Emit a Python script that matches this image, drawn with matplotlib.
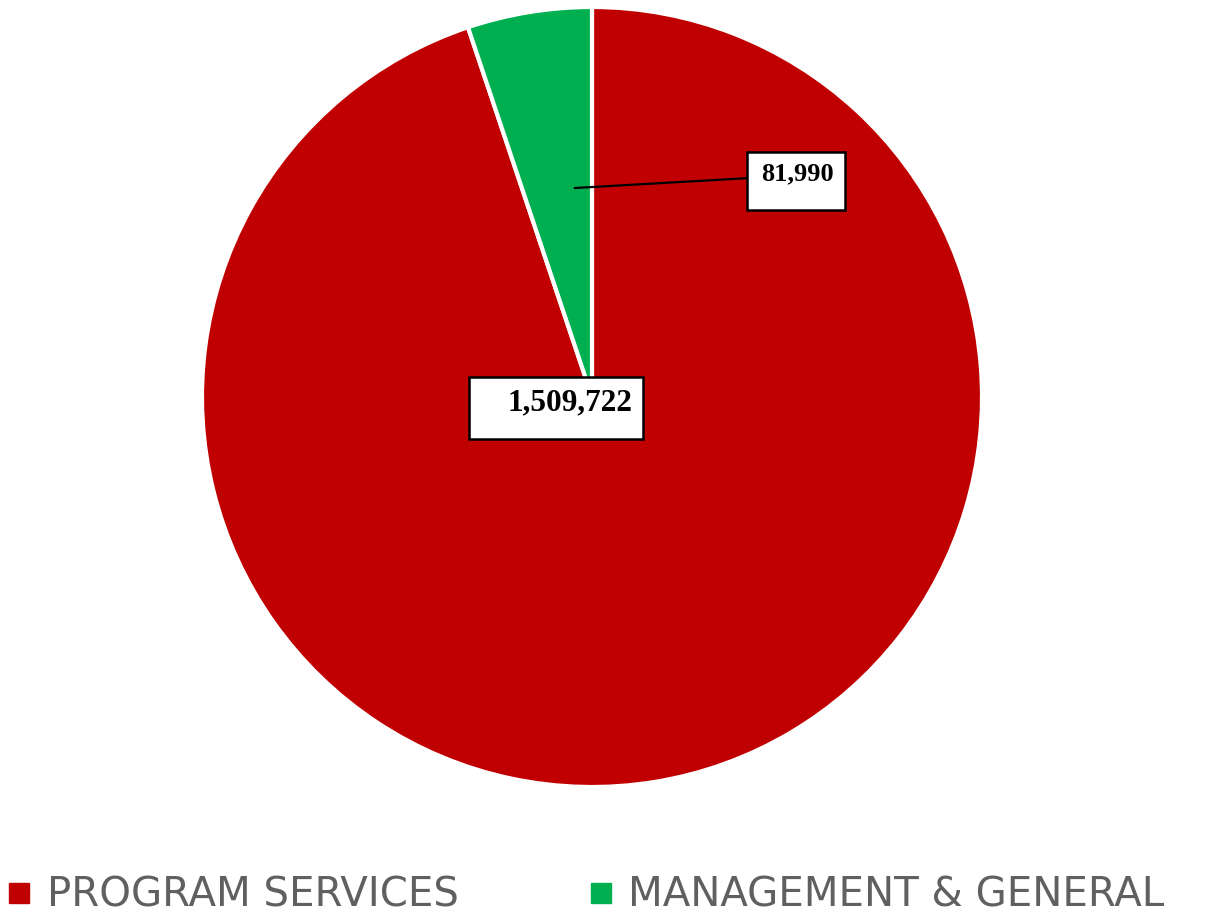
import matplotlib
matplotlib.use("Agg")
import matplotlib.pyplot as plt
from matplotlib.lines import Line2D
from matplotlib.patches import Rectangle

# expense breakdown
categories = ["PROGRAM SERVICES", "MANAGEMENT & GENERAL"]
values = [1509722, 81990]
colors = ["#C00000", "#00B050"]
value_labels = ["1,509,722", "81,990"]

W, H = 1212, 918
fig = plt.figure(figsize=(W / 100, H / 100), dpi=100)
ax = fig.add_axes([0, 0, 1, 1])

# pie centre / radius in pixel units (y measured from bottom)
cx, cy, r = 592, H - 397, 390
wedges, _ = ax.pie(values, colors=colors, startangle=90, counterclock=False,
                   center=(cx, cy), radius=r,
                   wedgeprops=dict(edgecolor="white", linewidth=3))
ax.set_xlim(0, W)
ax.set_ylim(0, H)
ax.set_aspect("equal")
ax.axis("off")

serif = ["Liberation Serif", "DejaVu Serif"]

# label for the small slice, with leader line
ax.plot([575, 750], [H - 188, H - 178], color="black", lw=1.6, zorder=4)
ax.add_patch(Rectangle((747, H - 210), 98, 58, facecolor="white",
                       edgecolor="black", lw=1.8, zorder=5))
ax.text(797, H - 174, value_labels[1], fontsize=19, fontweight="bold",
        family=serif, ha="center", va="center", zorder=6)

# label for the large slice
ax.add_patch(Rectangle((469, H - 439), 174, 62, facecolor="white",
                       edgecolor="black", lw=1.8, zorder=5))
ax.text(632, H - 403, value_labels[0], fontsize=22.5, fontweight="bold",
        family=serif, ha="right", va="center", zorder=6)

handles = [Line2D([], [], marker="s", linestyle="none", markersize=14,
                  markerfacecolor=c, markeredgecolor=c) for c in colors]
fig.legend(handles, categories, loc="lower left", bbox_to_anchor=(-0.0055, -0.015),
           ncol=2, frameon=False, handlelength=0.48, handletextpad=0.44,
           columnspacing=3.3, borderaxespad=0,
           prop=dict(family="DejaVu Sans", size=29), labelcolor="#606060")

fig.savefig("out.png", dpi=100)
